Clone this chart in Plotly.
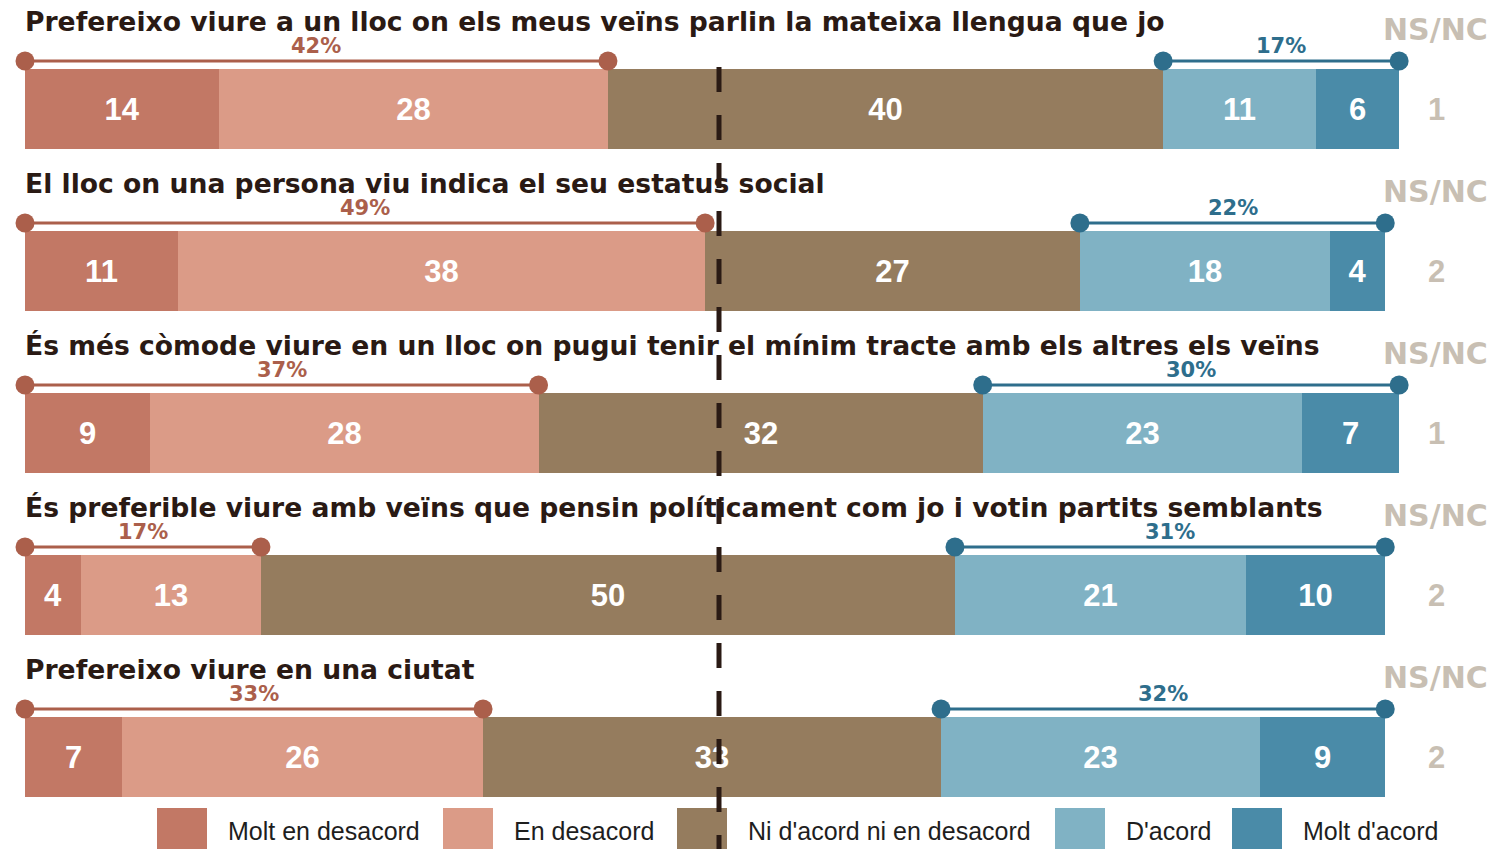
import plotly.graph_objects as go

# Survey statements and answer distribution (%)
statements = [
    "Prefereixo viure a un lloc on els meus veïns parlin la mateixa llengua que jo",
    "El lloc on una persona viu indica el seu estatus social",
    "És més còmode viure en un lloc on pugui tenir el mínim tracte amb els altres els veïns",
    "És preferible viure amb veïns que pensin políticament com jo i votin partits semblants",
    "Prefereixo viure en una ciutat",
]
categories = ["Molt en desacord", "En desacord", "Ni d'acord ni en desacord", "D'acord", "Molt d'acord"]
molt_desacord = [14, 11, 9, 4, 7]
desacord = [28, 38, 28, 13, 26]
neutral = [40, 27, 32, 50, 33]
acord = [11, 18, 23, 21, 23]
molt_acord = [6, 4, 7, 10, 9]
nsnc = [1, 2, 1, 2, 2]
midpoint = 50

series = [molt_desacord, desacord, neutral, acord, molt_acord]
colors = ["#c27865", "#db9b87", "#957c5e", "#80b2c4", "#4a8ba8"]
red_dark = "#ab5f4b"
blue_dark = "#2e6e8c"
title_color = "#2a1a14"
nsnc_color = "#c8bfb3"

W, H = 1506, 849
PX_PER_UNIT = 13.88
X0_PX = 25
x_min = -X0_PX / PX_PER_UNIT
x_max = (W - X0_PX) / PX_PER_UNIT

# vertical layout (y axis measured in pixels from the top)
ROW_TOP = 109
ROW_STEP = 162
BAR_H = 80
row_y = [ROW_TOP + i * ROW_STEP for i in range(len(statements))]

FONT = "Liberation Sans, Arial, sans-serif"
WIDE = "DejaVu Sans, Verdana, sans-serif"

fig = go.Figure()

# stacked bars
bases = [0] * len(statements)
for name, vals, col in zip(categories, series, colors):
    fig.add_trace(go.Bar(
        y=row_y, x=vals, base=list(bases), orientation="h", width=BAR_H,
        marker=dict(color=col, line=dict(width=0)), name=name,
        text=[str(v) for v in vals], textposition="inside",
        insidetextanchor="middle", textangle=0, constraintext="none",
        textfont=dict(family=FONT, size=31, color="white", weight="bold"),
        showlegend=False, hoverinfo="skip",
    ))
    bases = [b + v for b, v in zip(bases, vals)]

annotations = []
for i, y in enumerate(row_y):
    left_total = molt_desacord[i] + desacord[i]
    right_start = left_total + neutral[i]
    right_total = acord[i] + molt_acord[i]
    right_end = right_start + right_total
    by = y - 48
    # brackets for disagreement / agreement totals
    for xa, xb, col, tot in [(0, left_total, red_dark, left_total),
                             (right_start, right_end, blue_dark, right_total)]:
        fig.add_trace(go.Scatter(
            x=[xa, xb], y=[by, by], mode="lines+markers",
            line=dict(color=col, width=3),
            marker=dict(color=col, size=19, line=dict(width=0)),
            showlegend=False, hoverinfo="skip",
        ))
        annotations.append(dict(
            x=(xa + xb) / 2, y=y - 63, text=f"{tot}%", showarrow=False,
            xanchor="center", yanchor="middle",
            font=dict(family=WIDE, size=21, color=col, weight="bold"),
        ))
    # statement title
    annotations.append(dict(
        x=-0.15, y=y - 88, text=statements[i], showarrow=False,
        xanchor="left", yanchor="middle",
        font=dict(family=WIDE, size=26.6, color=title_color, weight="bold"),
    ))
    # NS/NC column
    annotations.append(dict(
        x=101.6, y=y - 80, text="NS/NC", showarrow=False,
        xanchor="center", yanchor="middle",
        font=dict(family=WIDE, size=30, color=nsnc_color, weight="bold"),
    ))
    annotations.append(dict(
        x=101.7, y=y, text=str(nsnc[i]), showarrow=False,
        xanchor="center", yanchor="middle",
        font=dict(family=FONT, size=31, color=nsnc_color, weight="bold"),
    ))

shapes = []
# legend swatches and labels
legend_box_x = [157, 443, 677, 1055, 1232]
for name, col, lx in zip(categories, colors, legend_box_x):
    shapes.append(dict(type="rect", xref="paper", yref="y",
                       x0=lx / W, x1=(lx + 50) / W, y0=808, y1=849,
                       fillcolor=col, line=dict(width=0), layer="below"))
    annotations.append(dict(
        xref="paper", yref="y", x=(lx + 69) / W, y=831, text=name,
        showarrow=False, xanchor="left", yanchor="middle",
        font=dict(family=FONT, size=25, color="#1e1e1e"),
    ))

# dashed midpoint line
shapes.append(dict(type="line", xref="x", yref="y", x0=midpoint, x1=midpoint,
                   y0=67, y1=H, line=dict(color=title_color, width=5, dash="25px,23px"),
                   layer="above"))

fig.update_layout(
    width=W, height=H,
    margin=dict(l=0, r=0, t=0, b=0),
    paper_bgcolor="white", plot_bgcolor="white",
    barmode="overlay", bargap=0,
    xaxis=dict(range=[x_min, x_max], visible=False, fixedrange=True),
    yaxis=dict(range=[H, 0], visible=False, fixedrange=True),
    annotations=annotations, shapes=shapes,
)

fig.write_html("out.html")
